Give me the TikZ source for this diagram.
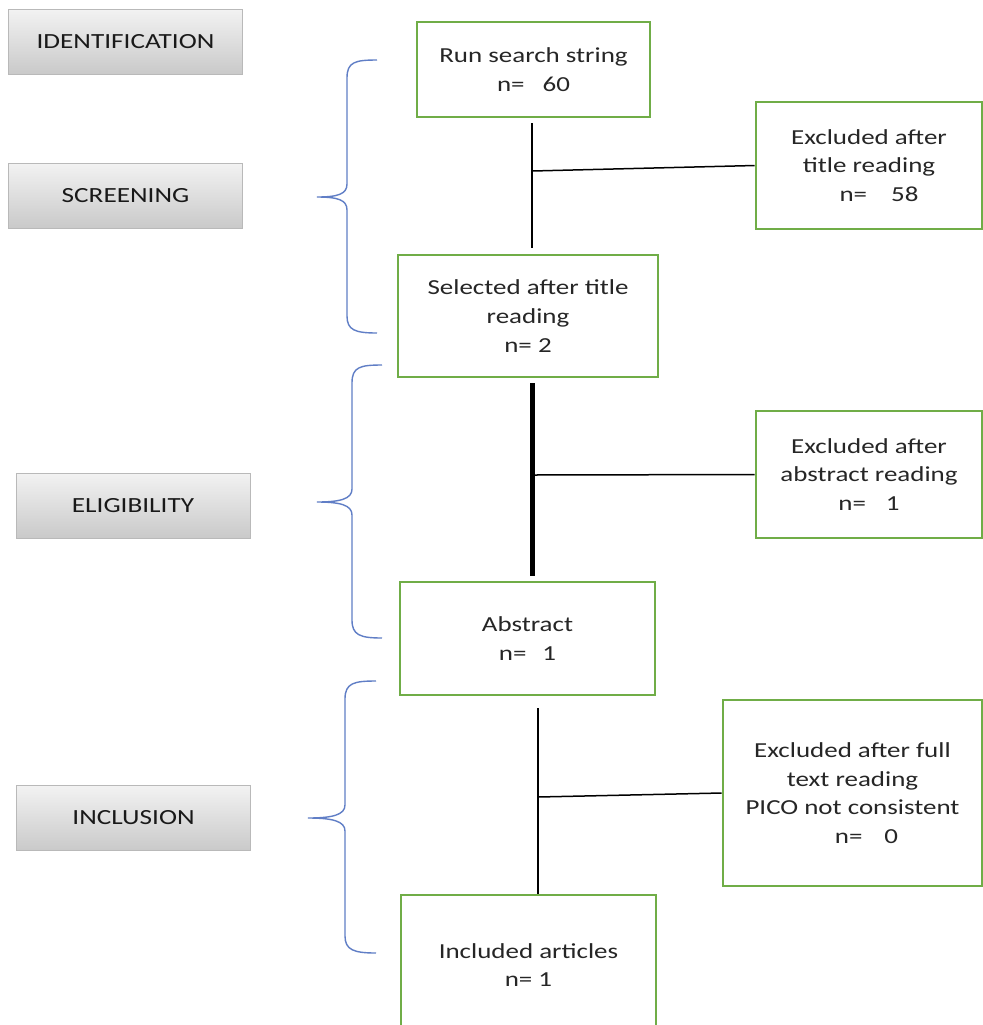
\documentclass[tikz,border=0pt]{standalone}
\usepackage{fontspec}
\setmainfont{Carlito}[FakeStretch=1.26]
\definecolor{boxgreen}{RGB}{112,173,71}
\definecolor{braceblue}{RGB}{96,126,198}
\definecolor{textgray}{RGB}{38,38,38}

\begin{document}
\begin{tikzpicture}[x=0.5pt, y=-0.5pt]
    \tikzset{
        phase/.style = {rectangle, draw=gray!55, line width=0.4pt, top color=gray!10, bottom color=gray!42, minimum width=117pt, minimum height=32.5pt, font=\fontsize{10.8}{14.3}\selectfont, text=black!90},
        stage/.style = {rectangle, draw=boxgreen, line width=1.3pt, fill=white, align=center, font=\fontsize{10.7}{14.3}\selectfont, text=textgray},
        link/.style = {draw, line width=0.75pt},
        heavy/.style = {draw, line width=2.5pt},
        bracket/.style = {draw=braceblue, line width=0.7pt}
    }
    \fill[white] (0,0) rectangle (983,1025);
    \useasboundingbox (0,0) rectangle (983,1025);

    % phases on the left
    \node[phase] (ident) at (125.5,41.5) {IDENTIFICATION};
    \node[phase] (screen) at (125.5,195.5) {SCREENING};
    \node[phase] (elig) at (133,505.5) {ELIGIBILITY};
    \node[phase] (incl) at (133.5,818) {INCLUSION};

    % flow boxes
    \node[stage, minimum width=116.5pt, minimum height=47.5pt] (run) at (533.5,69.5) {Run search string\\n=\hspace{9pt}60};
    \node[stage, minimum width=113pt, minimum height=63.5pt] (exctitle) at (869,165.5) {Excluded after\\title reading\\\hspace*{10pt}n=\hspace{12pt}58};
    \node[stage, minimum width=130pt, minimum height=61pt] (seltitle) at (528,316) {Selected after title\\reading\\n= 2};
    \node[stage, minimum width=113pt, minimum height=63.5pt] (excabs) at (869,474.5) {Excluded after\\abstract reading\\n=\hspace{10pt}1};
    \node[stage, minimum width=127.5pt, minimum height=56.5pt] (abstract) at (527.5,638.5) {Abstract\\n=\hspace{8pt}1};
    \node[stage, minimum width=129.5pt, minimum height=93pt] (excfull) at (852.5,793) {Excluded after full\\text reading\\PICO not consistent\\\hspace*{14pt}n=\hspace{11pt}0};
    \node[stage, minimum width=127.5pt, minimum height=70pt] (included) at (528.5,965) {Included articles\\n= 1};

    % connectors
    \coordinate (j1) at (532,171);
    \coordinate (j2) at (532,475);
    \coordinate (j3) at (538,797);
    \draw[link, shorten <=2.5pt, shorten >=3pt] (run.south -| j1) -- (seltitle.north -| j1);
    \draw[link] (j1) -- (exctitle.west);
    \draw[heavy, shorten <=2.5pt, shorten >=2.5pt] (seltitle.south -| j2) -- (abstract.north -| j2);
    \draw[link] (j2) -- (excabs.west);
    \draw[link, shorten <=6pt] (abstract.south -| j3) -- (included.north -| j3);
    \draw[link] (j3) -- (excfull.west);

    % braces
    \draw[bracket] (377,60) .. controls (355,60) and (347,62) .. (347,78) -- (347,184) .. controls (347,194) and (338,197) .. (317,197) .. controls (338,197) and (347,200) .. (347,210) -- (347,316) .. controls (347,330) and (355,333) .. (377,333);
    \draw[bracket] (382,365) .. controls (360,365) and (352,367) .. (352,383) -- (352,489) .. controls (352,499) and (340,502) .. (317,502) .. controls (340,502) and (352,505) .. (352,515) -- (352,620) .. controls (352,635) and (360,638) .. (382,638);
    \draw[bracket] (376,681) .. controls (354,681) and (345,683) .. (345,699) -- (345,805) .. controls (345,815) and (332,818) .. (308,818) .. controls (332,818) and (345,821) .. (345,831) -- (345,936) .. controls (345,950) and (354,953) .. (376,953);
\end{tikzpicture}
\end{document}
